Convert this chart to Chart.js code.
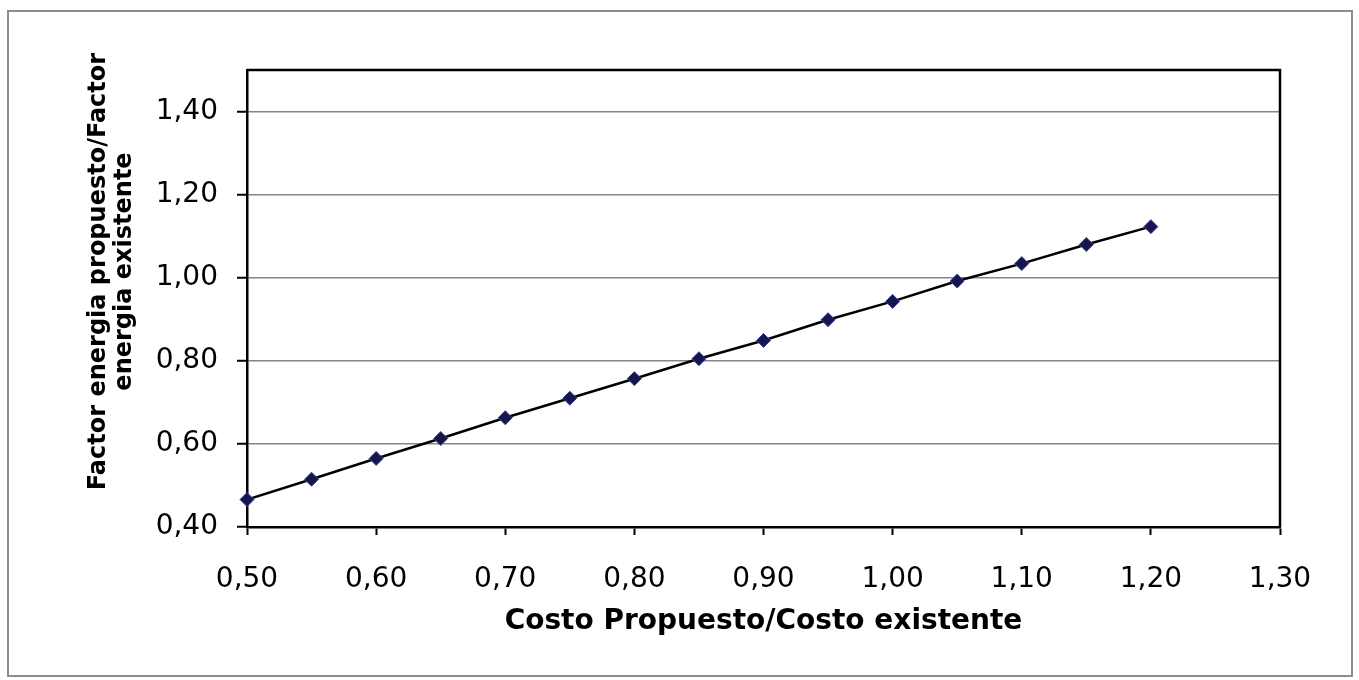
<!DOCTYPE html>
<html>
<head>
<meta charset="utf-8">
<script src="https://cdn.jsdelivr.net/npm/chart.js@4.4.0/dist/chart.umd.min.js"></script>
<style>
  html, body { margin: 0; padding: 0; background: #fff; }
  #wrap { position: relative; width: 1359px; height: 680px; overflow: hidden; }
  #frame {
    position: absolute; left: 7px; top: 10px; width: 1346px; height: 667px;
    border: 2px solid #8c8c8c; box-sizing: border-box;
  }
  #c { position: absolute; left: 0; top: 0; }
</style>
</head>
<body>
<div id="wrap">
  <div id="frame"></div>
  <canvas id="c" width="1359" height="680"></canvas>
</div>
<script>
// Cost ratio (proposed / existing) on the horizontal axis
const costRatio = [0.50, 0.55, 0.60, 0.65, 0.70, 0.75, 0.80, 0.85, 0.90, 0.95, 1.00, 1.05, 1.10, 1.15, 1.20];
// Energy factor ratio (proposed / existing) for each cost ratio
const energyFactorRatio = [0.466, 0.515, 0.565, 0.613, 0.663, 0.710, 0.757, 0.805, 0.849, 0.899, 0.943, 0.992, 1.034, 1.080, 1.123];

// Axis tick values
const xTickValues = [0.50, 0.60, 0.70, 0.80, 0.90, 1.00, 1.10, 1.20, 1.30];
const yTickValues = [0.40, 0.60, 0.80, 1.00, 1.20, 1.40];

// Axis titles
const xTitle = 'Costo Propuesto/Costo existente';
const yTitleLines = ['Factor energia propuesto/Factor', 'energia existente'];

const FONT = '"DejaVu Sans", "Liberation Sans", Arial, sans-serif';
const fmt = v => Number(v).toFixed(2).replace('.', ',');

// Closes the plot box with top and right border lines
const plotFrame = {
  id: 'plotFrame',
  beforeDatasetsDraw(chart) {
    const { ctx, chartArea: a } = chart;
    ctx.save();
    ctx.strokeStyle = '#000';
    ctx.lineWidth = 2.5;
    ctx.beginPath();
    ctx.moveTo(a.left, a.top);
    ctx.lineTo(a.right, a.top);
    ctx.lineTo(a.right, a.bottom);
    ctx.stroke();
    ctx.restore();
  }
};

// Two-line rotated title for the vertical axis
const yAxisTitle = {
  id: 'yAxisTitle',
  afterDraw(chart) {
    const { ctx, chartArea: a } = chart;
    const lh = 26;
    ctx.save();
    ctx.fillStyle = '#000';
    ctx.font = 'bold 24px ' + FONT;
    ctx.textAlign = 'center';
    ctx.textBaseline = 'middle';
    ctx.translate(a.left - 148, (a.top + a.bottom) / 2 - 27);
    ctx.rotate(-Math.PI / 2);
    yTitleLines.forEach((t, i) => ctx.fillText(t, 0, i * lh));
    ctx.restore();
  }
};

new Chart(document.getElementById('c'), {
  type: 'scatter',
  data: {
    datasets: [{
      data: costRatio.map((x, i) => ({ x, y: energyFactorRatio[i] })),
      showLine: true,
      clip: false,
      borderColor: '#000',
      borderWidth: 2.5,
      tension: 0,
      pointStyle: 'rectRot',
      pointRadius: 7,
      pointBackgroundColor: '#16164e',
      pointBorderColor: '#3c3ca0',
      pointBorderWidth: 1
    }]
  },
  options: {
    responsive: false,
    animation: false,
    devicePixelRatio: 1,
    layout: { padding: { left: 60, right: 79, top: 70, bottom: 40 } },
    plugins: { legend: { display: false }, tooltip: { enabled: false } },
    scales: {
      x: {
        type: 'linear',
        min: 0.5,
        max: 1.3,
        afterBuildTicks: s => { s.ticks = xTickValues.map(v => ({ value: v })); },
        afterFit: s => { s.height = 113; },
        ticks: {
          color: '#000',
          font: { family: FONT, size: 28 },
          padding: 28,
          maxRotation: 0,
          autoSkip: false,
          callback: v => fmt(v)
        },
        grid: {
          drawOnChartArea: false,
          drawTicks: true,
          tickLength: 8,
          tickColor: '#000',
          tickWidth: 2
        },
        border: { color: '#000', width: 2.5 },
        title: {
          display: true,
          text: xTitle,
          color: '#000',
          font: { family: FONT, size: 28, weight: 'bold' },
          padding: { top: 0, bottom: 1 }
        }
      },
      y: {
        type: 'linear',
        min: 0.4,
        max: 1.5,
        afterBuildTicks: s => { s.ticks = yTickValues.map(v => ({ value: v })); },
        afterFit: s => { s.width = 187; },
        ticks: {
          color: '#000',
          font: { family: FONT, size: 28 },
          padding: 19,
          autoSkip: false,
          callback: v => fmt(v)
        },
        grid: {
          color: '#858585',
          lineWidth: 1.5,
          drawTicks: true,
          tickLength: 10,
          tickColor: '#000',
          tickWidth: 2
        },
        border: { color: '#000', width: 2.5 }
      }
    }
  },
  plugins: [plotFrame, yAxisTitle]
});
</script>
</body>
</html>
